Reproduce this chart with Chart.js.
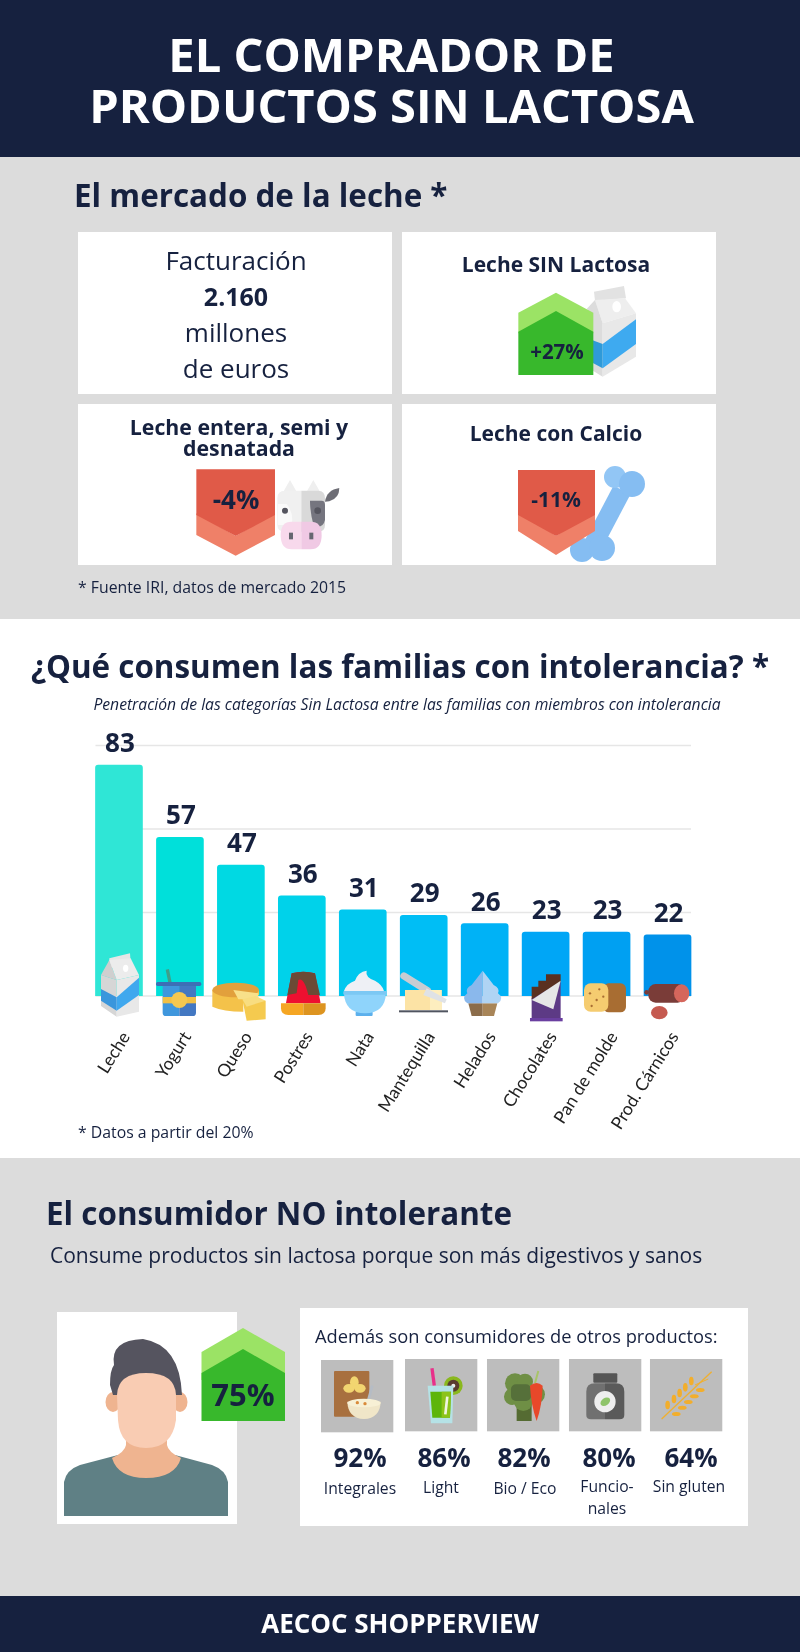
<!DOCTYPE html>
<html>
<head>
<meta charset="utf-8">
<title>El comprador de productos sin lactosa</title>
<script src="https://cdn.jsdelivr.net/npm/chart.js@4"></script>
<style>
html, body { margin: 0; padding: 0; background: #fff; }
#page { position: relative; width: 800px; height: 1652px; overflow: hidden; font-family: "Open Sans", sans-serif; }
.band { position: absolute; left: 0; width: 800px; }
#chart_box { position: absolute; left: 0; top: 720px; width: 800px; height: 420px; }
svg { position: absolute; left: 0; top: 0; }
text { font-family: "Open Sans", sans-serif; fill: #16213f; dominant-baseline: central; }
.c { text-anchor: middle; }
.b { font-weight: 700; }
</style>
</head>
<body>
<div id="page">
  <div class="band" style="top:0;height:157px;background:#16213f"></div>
  <div class="band" style="top:157px;height:462px;background:#dcdcdc"></div>
  <div class="band" style="top:1158px;height:438px;background:#dcdcdc"></div>
  <div class="band" style="top:1596px;height:56px;background:#16213f"></div>
  <div id="chart_box"><canvas id="bars"></canvas></div>

  <svg width="800" height="1652" viewBox="0 0 800 1652">
    <!-- cabecera -->
    <text class="c b" x="391.5" y="54" font-size="47" style="fill:#fff">EL COMPRADOR DE</text>
    <text class="c b" x="391.5" y="105" font-size="47" style="fill:#fff">PRODUCTOS SIN LACTOSA</text>

    <!-- mercado -->
    <text class="b" x="74" y="194" font-size="31.4">El mercado de la leche *</text>
    <rect x="78" y="232" width="314" height="162" fill="#fff"/>
    <rect x="402" y="232" width="314" height="162" fill="#fff"/>
    <rect x="78" y="404" width="314" height="161" fill="#fff"/>
    <rect x="402" y="404" width="314" height="161" fill="#fff"/>
    <text class="c" x="236" y="260" font-size="26">Facturación</text>
    <text class="c b" x="236" y="296" font-size="25">2.160</text>
    <text class="c" x="236" y="332" font-size="26">millones</text>
    <text class="c" x="236" y="368" font-size="26">de euros</text>
    <text class="c b" x="556" y="264" font-size="21">Leche SIN Lactosa</text>
    <text class="c b" x="239" y="426" font-size="21.3">Leche entera, semi y</text>
    <text class="c b" x="239" y="447" font-size="21.3">desnatada</text>
    <text class="c b" x="556" y="433" font-size="21">Leche con Calcio</text>
    <text x="78" y="587" font-size="15.8">* Fuente IRI, datos de mercado 2015</text>

    <!-- carton + flecha verde -->
    <g transform="translate(510,280) scale(.3333)">
      <polygon points="252,35 342,18 348,55 255,62" fill="#e2e2e2"/>
      <polygon points="255,60 345,55 378,100 278,130" fill="#eeeeee"/>
      <polygon points="232,85 255,60 278,130 278,290 232,262" fill="#dcdcdc"/>
      <polygon points="278,130 378,100 378,230 278,290" fill="#e8e8e8"/>
      <polygon points="232,175 278,192 278,265 232,240" fill="#2f9ad8"/>
      <polygon points="278,192 378,118 378,192 278,265" fill="#3eaaf0"/>
      <ellipse cx="320" cy="80" rx="13" ry="17" fill="#fff"/>
      <polygon points="25,98 138,38 250,98 250,160 25,160" fill="#9be365"/>
      <polygon points="25,155 138,93 250,155 250,285 25,285" fill="#38b82c"/>
    </g>
    <text class="c b" x="557" y="351" font-size="20.5">+27%</text>

    <!-- vaca + flecha roja -->
    <g transform="translate(190,460) scale(.3333)">
      <polygon points="280,95 300,60 320,95" fill="#efefef"/>
      <polygon points="350,95 370,60 390,95" fill="#efefef"/>
      <path d="M405,125 Q410,90 448,84 Q448,115 418,124 Z" fill="#6d6d75"/>
      <path d="M334,92 H285 Q262,92 262,115 V195 Q262,215 285,215 H334 Z" fill="#f0f0f0"/>
      <path d="M334,92 H385 Q405,92 405,115 V195 Q405,215 385,215 H334 Z" fill="#d9d9d9"/>
      <path d="M360,122 H395 Q405,122 405,135 V180 Q400,205 372,200 Q360,160 360,122 Z" fill="#75757f"/>
      <path d="M264,132 H290 Q312,160 305,195 H264 Z" fill="#fafafa"/>
      <circle cx="285" cy="152" r="9" fill="#55555f"/>
      <circle cx="383" cy="152" r="10" fill="#55555f"/>
      <path d="M334,185 H305 Q272,185 272,225 Q272,268 305,268 H334 Z" fill="#f8d9ec"/>
      <path d="M334,185 H362 Q395,185 395,225 Q395,268 362,268 H334 Z" fill="#f0c9e4"/>
      <rect x="297" y="218" width="12" height="20" fill="#666670"/>
      <rect x="358" y="218" width="12" height="20" fill="#666670"/>
      <polygon points="19,160 137,228 255,160 255,225 137,287 19,225" fill="#ef8068"/>
      <polygon points="19,28 255,28 255,165 137,228 19,165" fill="#e05a48"/>
    </g>
    <text class="c b" x="236" y="499" font-size="26">-4%</text>

    <!-- hueso + flecha roja -->
    <line x1="622" y1="490" x2="592" y2="547" stroke="#85bdf2" stroke-width="19"/>
    <circle cx="615" cy="477" r="11" fill="#92c6f5"/>
    <circle cx="632" cy="484" r="13" fill="#85bdf2"/>
    <circle cx="582" cy="550" r="12" fill="#85bdf2"/>
    <circle cx="602" cy="548" r="13" fill="#85bdf2"/>
    <polygon points="518,510 556,536 595,510 595,531 556,555 518,531" fill="#ef8068"/>
    <polygon points="518,470 595,470 595,515 556,536 518,515" fill="#e05a48"/>
    <text class="c b" x="556" y="499" font-size="21">-11%</text>

    <!-- familias -->
    <text class="c b" x="400" y="665" font-size="31.4">¿Qué consumen las familias con intolerancia? *</text>
    <text class="c" x="407" y="704" font-size="15.7" font-style="italic">Penetración de las categorías Sin Lactosa entre las familias con miembros con intolerancia</text>
    <text x="78" y="1132" font-size="15.8">* Datos a partir del 20%</text>

    <!-- iconos del grafico -->
    <g transform="translate(90,940) scale(.3333)">
      <polygon points="58,55 120,40 122,72 58,85" fill="#e6e6e6"/>
      <polygon points="58,60 33,105 80,120" fill="#cfcfcf"/>
      <polygon points="58,60 122,55 147,105 80,120" fill="#ececec"/>
      <polygon points="33,105 80,120 80,230 33,198" fill="#d6d6d6"/>
      <polygon points="80,120 147,105 147,215 80,230" fill="#e8e8e8"/>
      <polygon points="33,147 80,172 80,212 33,182" fill="#3a96dc"/>
      <polygon points="80,172 147,113 147,165 80,212" fill="#40a8ee"/>
      <ellipse cx="107" cy="85" rx="8" ry="11" fill="#fff"/>
      <line x1="232" y1="88" x2="240" y2="128" stroke="#3f9f8a" stroke-width="10"/>
      <path d="M218,136 H268 V228 H228 Q218,228 218,218 Z" fill="#3f97dd"/>
      <path d="M268,136 H318 V218 Q318,228 308,228 H268 Z" fill="#4378c2"/>
      <rect x="198" y="126" width="136" height="12" rx="5" fill="#3d6fb5"/>
      <rect x="218" y="171" width="100" height="19" fill="#f2c045"/>
      <circle cx="268" cy="180" r="24" fill="#f5c850"/>
      <path d="M367,150 V200 Q400,215 460,215 V165 H507 V150 Z" fill="#f4c24a"/>
      <ellipse cx="437" cy="150" rx="70" ry="22" fill="#e2a03c"/>
      <polygon points="430,150 505,160 505,178 445,178" fill="#f8e08a"/>
      <polygon points="457,178 527,182 527,238 470,242" fill="#f5ca4f"/>
      <polygon points="457,178 497,168 527,182 470,200" fill="#f8dd80"/>
      <path d="M605,100 Q640,90 675,100 L692,190 H588 Z" fill="#ee1030"/>
      <path d="M605,100 Q640,90 675,100 L690,165 L655,165 Q642,110 625,120 L620,160 L592,165 Z" fill="#6b4a35"/>
      <path d="M573,190 H640 V225 H595 Q573,225 573,205 Z" fill="#f5a623"/>
      <path d="M640,190 H707 V205 Q707,225 685,225 H640 Z" fill="#dd9420"/>
      <path d="M762,153 Q770,130 795,122 Q805,95 830,92 Q825,112 855,122 Q878,135 882,153 Z" fill="#eef0f5"/>
      <rect x="797" y="215" width="51" height="13" rx="3" fill="#5cb0ec"/>
      <path d="M762,160 H888 Q885,220 825,220 Q765,220 762,160 Z" fill="#8fd4fb"/>
      <rect x="760" y="153" width="130" height="11" rx="3" fill="#7cc8f4"/>
    </g>
    <g transform="translate(390,940) scale(.3333)">
      <line x1="42" y1="108" x2="112" y2="152" stroke="#c8ccd2" stroke-width="22" stroke-linecap="round"/>
      <rect x="45" y="150" width="110" height="60" fill="#fce3a5"/>
      <rect x="120" y="150" width="35" height="60" fill="#fdeebf"/>
      <polygon points="110,145 170,178 165,190 100,165" fill="#dfe2e6"/>
      <rect x="27" y="211" width="147" height="6" fill="#505560"/>
      <polygon points="235,190 278,190 278,228 245,228" fill="#8b6c4a"/>
      <polygon points="278,190 322,190 312,228 278,228" fill="#a88558"/>
      <path d="M278,92 L245,135 Q225,145 232,160 Q212,175 232,190 H278 Z" fill="#8ab8ec"/>
      <path d="M278,92 L311,135 Q331,145 324,160 Q344,175 324,190 H278 Z" fill="#b0d4f4"/>
      <polygon points="425,175 512,125 512,235 425,235" fill="#5d3a85"/>
      <rect x="420" y="234" width="98" height="10" fill="#6a3fa0"/>
      <polygon points="425,140 445,140 445,122 468,122 468,103 512,103 512,125 425,178" fill="#5a3020"/>
      <polygon points="425,180 512,122 490,208" fill="#e6e6e6"/>
      <rect x="640" y="130" width="68" height="87" rx="16" fill="#a86d32"/>
      <rect x="582" y="130" width="73" height="85" rx="20" fill="#f5cc70"/>
      <circle cx="600" cy="160" r="3.5" fill="#a86d32"/><circle cx="628" cy="148" r="3.5" fill="#a86d32"/>
      <circle cx="620" cy="180" r="3.5" fill="#a86d32"/><circle cx="640" cy="170" r="3.5" fill="#a86d32"/>
      <circle cx="605" cy="198" r="3.5" fill="#a86d32"/>
      <circle cx="770" cy="157" r="7" fill="#7a3c38"/>
      <rect x="775" y="132" width="110" height="56" rx="22" fill="#7a3c38"/>
      <ellipse cx="875" cy="160" rx="23" ry="27" fill="#d5665c"/>
      <ellipse cx="808" cy="218" rx="25" ry="20" fill="#c55a50"/>
    </g>

    <!-- no intolerante -->
    <text class="b" x="46" y="1212" font-size="31.4">El consumidor NO intolerante</text>
    <text x="50" y="1255" font-size="21">Consume productos sin lactosa porque son más digestivos y sanos</text>

    <rect x="57" y="1312" width="180" height="212" fill="#fff"/>
    <path d="M64,1516 V1482 Q66,1470 80,1465 L118,1455 H175 L212,1465 Q226,1470 228,1482 V1516 Z" fill="#5f8085"/>
    <path d="M126,1430 V1445 Q125,1452 112,1458 Q118,1478 146,1478 Q175,1478 181,1458 Q168,1452 167,1445 V1430 Z" fill="#efb490"/>
    <ellipse cx="113" cy="1402" rx="7.5" ry="10" fill="#efb490"/>
    <ellipse cx="180" cy="1402" rx="7.5" ry="10" fill="#efb490"/>
    <path d="M113,1395 L110,1385 Q110,1370 114,1365 Q110,1340 143,1339 Q180,1345 182,1395 Z" fill="#55545f"/>
    <path d="M117,1395 Q118,1373 146,1373 Q175,1373 176,1395 V1420 Q172,1448 146,1448 Q120,1448 118,1420 Z" fill="#f9ccb3"/>
    <polygon points="201.5,1352 243,1328 285,1352 285,1380 201.5,1380" fill="#9be365"/>
    <polygon points="201.5,1373 243,1349 285,1373 285,1421 201.5,1421" fill="#38b82c"/>
    <text class="c b" x="243" y="1394" font-size="31">75%</text>

    <rect x="300" y="1308" width="448" height="218" fill="#fff"/>
    <text x="315" y="1335" font-size="18.3">Además son consumidores de otros productos:</text>
    <g transform="translate(315,1355) scale(.3333)">
      <rect x="18" y="15" width="217" height="217" fill="#bdbdbd"/>
      <rect x="270" y="12" width="217" height="217" fill="#bdbdbd"/>
      <rect x="516" y="12" width="217" height="217" fill="#bdbdbd"/>
      <rect x="762" y="12" width="217" height="217" fill="#bdbdbd"/>
      <rect x="1005" y="12" width="217" height="217" fill="#bdbdbd"/>
      <rect x="57" y="48" width="106" height="137" rx="3" fill="#a8703f"/>
      <ellipse cx="118" cy="82" rx="13" ry="18" fill="#f2d570"/>
      <ellipse cx="102" cy="100" rx="17" ry="13" fill="#f2d570"/>
      <ellipse cx="135" cy="100" rx="17" ry="13" fill="#f2d570"/>
      <line x1="172" y1="92" x2="158" y2="142" stroke="#b5bcc5" stroke-width="8"/>
      <path d="M97,140 H197 Q195,190 147,192 Q99,190 97,140 Z" fill="#f0e6c8"/>
      <ellipse cx="147" cy="144" rx="50" ry="13" fill="#f7f0d5"/>
      <circle cx="127" cy="143" r="5" fill="#d98a3a"/><circle cx="150" cy="146" r="5" fill="#d98a3a"/>
      <line x1="351" y1="40" x2="358" y2="92" stroke="#e8308a" stroke-width="10"/>
      <circle cx="415" cy="92" r="28" fill="#8ab81e"/>
      <circle cx="415" cy="92" r="18" fill="#5a3c30"/>
      <circle cx="415" cy="92" r="6" fill="#eeeeee"/>
      <polygon points="338,92 415,92 412,205 348,205" fill="#b5e2e6"/>
      <polygon points="346,110 408,110 405,188 352,188" fill="#5db50a"/>
      <polygon points="380,110 408,110 405,188 380,188" fill="#8cc31a"/>
      <line x1="397" y1="125" x2="391" y2="178" stroke="#f0f5e0" stroke-width="8"/>
      <rect x="605" y="150" width="45" height="48" fill="#556b32"/>
      <circle cx="600" cy="85" r="30" fill="#6f8f45"/><circle cx="592" cy="125" r="25" fill="#6f8f45"/>
      <circle cx="630" cy="80" r="24" fill="#6f8f45"/><circle cx="625" cy="140" r="28" fill="#6f8f45"/>
      <circle cx="662" cy="118" r="28" fill="#6f8f45"/>
      <rect x="588" y="88" width="60" height="50" rx="15" fill="#56703a"/>
      <line x1="660" y1="85" x2="670" y2="48" stroke="#a8c468" stroke-width="6"/>
      <path d="M645,92 Q665,76 683,92 Q682,150 665,198 Q648,150 645,92 Z" fill="#e8482a"/>
      <rect x="835" y="55" width="72" height="28" rx="3" fill="#555555"/>
      <path d="M870,85 H840 Q814,85 814,110 V180 Q814,193 828,193 H870 Z" fill="#707070"/>
      <path d="M870,85 H902 Q928,85 928,110 V180 Q928,193 914,193 H870 Z" fill="#5a5a5a"/>
      <circle cx="870" cy="140" r="32" fill="#eeeeee"/>
      <ellipse cx="871" cy="140" rx="16" ry="11" transform="rotate(-35 871 140)" fill="#8fc46a"/>
      <line x1="1040" y1="192" x2="1190" y2="50" stroke="#f0b030" stroke-width="4"/>
      <line x1="1140" y1="90" x2="1180" y2="72" stroke="#f0b030" stroke-width="3"/>
      <g fill="#f2ae2c">
        <ellipse cx="1058" cy="150" rx="7" ry="13"/><ellipse cx="1077" cy="132" rx="7" ry="13"/>
        <ellipse cx="1094" cy="114" rx="7" ry="13"/><ellipse cx="1111" cy="97" rx="7" ry="13"/>
        <ellipse cx="1129" cy="78" rx="7" ry="13"/><ellipse cx="1084" cy="177" rx="13" ry="6"/>
        <ellipse cx="1102" cy="158" rx="13" ry="6"/><ellipse cx="1120" cy="141" rx="13" ry="6"/>
        <ellipse cx="1138" cy="124" rx="13" ry="6"/><ellipse cx="1156" cy="105" rx="13" ry="6"/>
      </g>
    </g>
    <text class="c b" x="360" y="1457" font-size="26">92%</text>
    <text class="c b" x="444" y="1457" font-size="26">86%</text>
    <text class="c b" x="524" y="1457" font-size="26">82%</text>
    <text class="c b" x="609" y="1457" font-size="26">80%</text>
    <text class="c b" x="691" y="1457" font-size="26">64%</text>
    <text class="c" x="360" y="1488" font-size="15.7">Integrales</text>
    <text class="c" x="441" y="1487" font-size="15.7">Light</text>
    <text class="c" x="525" y="1488" font-size="15.7">Bio / Eco</text>
    <text class="c" x="607" y="1486" font-size="15.7">Funcio-</text>
    <text class="c" x="607" y="1508" font-size="15.7">nales</text>
    <text class="c" x="689" y="1486" font-size="15.7">Sin gluten</text>

    <text class="c b" x="400" y="1623" font-size="26" style="fill:#fff">AECOC SHOPPERVIEW</text>
  </svg>
</div>

<script>
const categories = ["Leche", "Yogurt", "Queso", "Postres", "Nata", "Mantequilla", "Helados", "Chocolates", "Pan de molde", "Prod. Cárnicos"];
const penetration = [83, 57, 47, 36, 31, 29, 26, 23, 23, 22];
const barColors = ["#2fe6d6", "#00e0da", "#00d9e3", "#00d2ea", "#00c8ef", "#00bef5", "#00b2f6", "#00a6f6", "#00a0f2", "#0092ea"];
const gridValues = [0, 30, 60, 90];

// la rejilla va solo de la primera barra a la ultima
const barGrid = {
  id: "barGrid",
  beforeDatasetsDraw(chart) {
    const ctx = chart.ctx;
    const bars = chart.getDatasetMeta(0).data;
    const left = bars[0].x - bars[0].width / 2;
    const right = bars[bars.length - 1].x + bars[bars.length - 1].width / 2;
    ctx.save();
    ctx.strokeStyle = "#e6e6e6";
    ctx.lineWidth = 1.5;
    gridValues.forEach(v => {
      const y = chart.scales.y.getPixelForValue(v);
      ctx.beginPath();
      ctx.moveTo(left, y);
      ctx.lineTo(right, y);
      ctx.stroke();
    });
    ctx.restore();
  }
};

const barValues = {
  id: "barValues",
  afterDatasetsDraw(chart) {
    const ctx = chart.ctx;
    ctx.save();
    ctx.font = "700 26px 'Open Sans'";
    ctx.fillStyle = "#16213f";
    ctx.textAlign = "center";
    ctx.textBaseline = "alphabetic";
    chart.getDatasetMeta(0).data.forEach((bar, i) => {
      ctx.fillText(penetration[i], bar.x + 1, bar.y - 13);
    });
    ctx.restore();
  }
};

new Chart(document.getElementById("bars"), {
  type: "bar",
  data: {
    labels: categories,
    datasets: [{
      data: penetration,
      backgroundColor: barColors,
      barThickness: 47,
      borderRadius: { topLeft: 3, topRight: 3 },
      borderSkipped: "bottom",
    }]
  },
  plugins: [barGrid, barValues],
  options: {
    responsive: true,
    maintainAspectRatio: false,
    animation: false,
    layout: { padding: { left: 88.5, right: 102, top: 25.5, bottom: 0 } },
    plugins: { legend: { display: false }, tooltip: { enabled: false } },
    scales: {
      x: {
        grid: { display: false },
        border: { display: false },
        afterFit: (scale) => { scale.height = 144; },
        ticks: {
          autoSkip: false,
          minRotation: 58,
          maxRotation: 58,
          padding: 24,
          labelOffset: 7,
          color: "#222",
          font: { family: "Lato", size: 17.5 },
        }
      },
      y: { display: false, min: 0, max: 90 }
    }
  }
});
</script>
</body>
</html>
